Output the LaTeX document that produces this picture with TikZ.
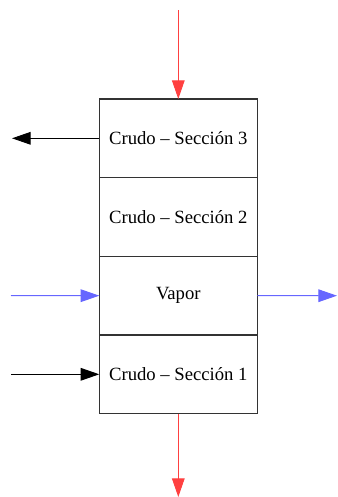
\documentclass[tikz,border=0pt]{standalone}
\usepackage{fontspec}
\setmainfont{Liberation Serif}
\usetikzlibrary{positioning,arrows.meta}
\definecolor{hotred}{RGB}{255,64,64}
\definecolor{steamblue}{RGB}{102,102,255}
\begin{document}
\begin{tikzpicture}[x=0.75pt,y=-0.75pt,
  stage/.style={draw=black!80,line width=0.9pt,minimum width=118.5pt,minimum height=59pt,
    inner sep=0pt,outer sep=0pt,font=\fontsize{14}{16}\selectfont},
  flow/.style={line width=0.75pt,-{Triangle[length=14pt,width=9.5pt]}}]
\useasboundingbox (0,0) rectangle (337,497);

\node[stage] (sec3) at (178.3,138.3) {Crudo -- Sección 3};
\node[stage,below=0pt of sec3] (sec2) {Crudo -- Sección 2};
\node[stage,below=0pt of sec2] (vapor) {Vapor};
\node[stage,below=0pt of vapor] (sec1) {Crudo -- Sección 1};

\coordinate (feed) at (178.3,10);
\coordinate (bottoms) at (178.3,497);
\coordinate (draw3) at (12,138.3);
\coordinate (steamin) at (11,295.7);
\coordinate (steamout) at (337,295.7);
\coordinate (crudein) at (11,374.3);

\draw[flow,hotred] (feed) -- (sec3);
\draw[flow] (sec3) -- (draw3);
\draw[flow,steamblue] (steamin) -- (vapor);
\draw[flow,steamblue] (vapor) -- (steamout);
\draw[flow] (crudein) -- (sec1);
\draw[flow,hotred] (sec1) -- (bottoms);
\end{tikzpicture}
\end{document}
